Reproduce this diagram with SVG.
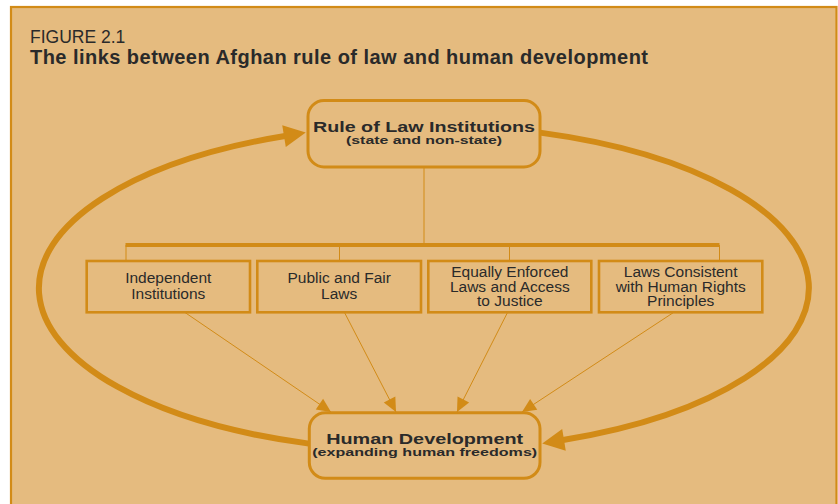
<svg xmlns="http://www.w3.org/2000/svg" width="838" height="504" viewBox="0 0 838 504">
  <style>
    .frame { fill: #E5BB7F; stroke: #D28B17; stroke-width: 2.2; }
    .round { fill: #E5BB7F; stroke: #D28B17; stroke-width: 3; }
    .box { fill: #E5BB7F; stroke: #D28B17; stroke-width: 2.6; }
    .thin { fill: none; stroke: #D28B17; stroke-width: 1; }
    .loop { fill: none; stroke: #D28B17; stroke-width: 6; }
    .bar { fill: none; stroke: #D28B17; stroke-width: 4; }
    text { font-family: "Liberation Sans", Arial, sans-serif; fill: #2A2A2A; }
    .fig { font-size: 17.5px; }
    .title { font-size: 20px; font-weight: bold; }
    .head { font-size: 15px; font-weight: bold; text-anchor: middle; }
    .sub { font-size: 11.5px; font-weight: bold; text-anchor: middle; }
    .lbl { font-size: 15.5px; text-anchor: middle; }
  </style>
  <defs>
    <marker id="bigHead" markerUnits="userSpaceOnUse" viewBox="0 -12 24 24" refX="1" refY="0" markerWidth="24" markerHeight="24" orient="auto" overflow="visible">
      <path d="M0,-11 L22,0 L0,11 z" fill="#D28B17"/>
    </marker>
    <marker id="smallHead" markerUnits="userSpaceOnUse" viewBox="0 -7 15 14" refX="14" refY="0" markerWidth="15" markerHeight="14" orient="auto" overflow="visible">
      <path d="M0,-6.5 L14,0 L0,6.5 z" fill="#D28B17"/>
    </marker>
  </defs>

  <!-- panel -->
  <rect class="frame" x="11" y="7" width="825.5" height="560"/>
  <text class="fig" x="30" y="42.7">FIGURE 2.1</text>
  <text class="title" x="30" y="64" textLength="618">The links between Afghan rule of law and human development</text>

  <!-- connectors -->
  <g id="connectors">
    <!-- feedback loop -->
    <path class="loop" d="M309,443.6 A385,163 0 0 1 285,136" marker-end="url(#bigHead)"/>
    <path class="loop" d="M540,132.6 A385,163 0 0 1 563,440" marker-end="url(#bigHead)"/>
    <!-- branching bracket -->
    <line class="thin" x1="424" y1="167" x2="424" y2="245"/>
    <line class="bar" x1="125.5" y1="245" x2="719.5" y2="245"/>
    <line class="thin" x1="126" y1="245" x2="126" y2="261"/>
    <line class="thin" x1="339.5" y1="245" x2="339.5" y2="261"/>
    <line class="thin" x1="509.5" y1="245" x2="509.5" y2="261"/>
    <line class="thin" x1="719.5" y1="245" x2="719.5" y2="261"/>
    <!-- components feeding human development -->
    <line class="thin" x1="185" y1="312.5" x2="331" y2="412" marker-end="url(#smallHead)"/>
    <line class="thin" x1="344.5" y1="312.5" x2="396" y2="412" marker-end="url(#smallHead)"/>
    <line class="thin" x1="507.5" y1="312.5" x2="457" y2="412" marker-end="url(#smallHead)"/>
    <line class="thin" x1="673.5" y1="312.5" x2="522" y2="412" marker-end="url(#smallHead)"/>
  </g>

  <g id="rule-of-law">
    <rect class="round" x="308" y="100.5" width="232" height="66.5" rx="16"/>
    <text class="head" x="424" y="131.7" textLength="222" lengthAdjust="spacingAndGlyphs">Rule of Law Institutions</text>
    <text class="sub" x="424" y="143.5" textLength="156" lengthAdjust="spacingAndGlyphs">(state and non-state)</text>
  </g>

  <g id="independent-institutions">
    <rect class="box" x="86.7" y="261" width="163.3" height="51.3"/>
    <text class="lbl" x="168.3" y="283.3">Independent</text>
    <text class="lbl" x="168.3" y="299.3">Institutions</text>
  </g>

  <g id="public-fair-laws">
    <rect class="box" x="257.3" y="261" width="163.7" height="51.3"/>
    <text class="lbl" x="339.2" y="283.3">Public and Fair</text>
    <text class="lbl" x="339.2" y="299.3">Laws</text>
  </g>

  <g id="equal-enforcement">
    <rect class="box" x="428.3" y="261" width="163" height="51.3"/>
    <text class="lbl" x="509.8" y="276.8">Equally Enforced</text>
    <text class="lbl" x="509.8" y="291.6">Laws and Access</text>
    <text class="lbl" x="509.8" y="306.3">to Justice</text>
  </g>

  <g id="human-rights-laws">
    <rect class="box" x="599" y="261" width="163.3" height="51.3"/>
    <text class="lbl" x="680.7" y="277.3">Laws Consistent</text>
    <text class="lbl" x="680.7" y="292">with Human Rights</text>
    <text class="lbl" x="680.7" y="306.3">Principles</text>
  </g>

  <g id="human-development">
    <rect class="round" x="309.3" y="412.8" width="230.7" height="65.5" rx="16"/>
    <text class="head" x="424.7" y="443.5" textLength="197" lengthAdjust="spacingAndGlyphs">Human Development</text>
    <text class="sub" x="424.7" y="456" textLength="225" lengthAdjust="spacingAndGlyphs">(expanding human freedoms)</text>
  </g>
</svg>
